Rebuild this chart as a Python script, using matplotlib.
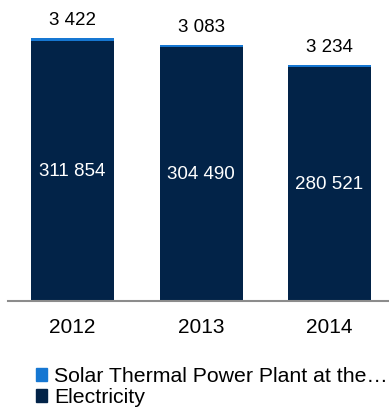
import matplotlib
matplotlib.use("Agg")
import matplotlib.pyplot as plt
from matplotlib.patches import Patch

plt.rcParams['font.family'] = ['Liberation Sans', 'DejaVu Sans']

# data
years = ['2012', '2013', '2014']
electricity = [311854, 304490, 280521]
solar = [3422, 3083, 3234]

navy = '#022348'
blue = '#1677d2'

fig = plt.figure(figsize=(3.89, 4.08), dpi=100)
ax = fig.add_axes([0.0206, 0.262, 0.9794, 0.735])

x = range(len(years))
ax.bar(x, electricity, width=0.646, color=navy)
ax.bar(x, solar, width=0.646, bottom=electricity, color=blue)

# value labels
for i in x:
    ax.text(i, electricity[i] / 2, f"{electricity[i]:,}".replace(',', ' '),
            ha='center', va='center', color='white', fontsize=13.5)
    ax.annotate(f"{solar[i]:,}".replace(',', ' '),
                (i, electricity[i] + solar[i]), xytext=(0, 6.5),
                textcoords='offset points', ha='center', va='bottom',
                fontsize=13.5, color='black')

ax.set_xlim(-0.502, 2.463)
ax.set_ylim(0, 360000)
ax.set_xticks(list(x))
ax.set_xticklabels(years, fontsize=15)
ax.tick_params(axis='x', length=0, pad=12.5)
ax.set_yticks([])
for side in ['top', 'right', 'left']:
    ax.spines[side].set_visible(False)
ax.spines['bottom'].set_color('#8c8c8c')
ax.spines['bottom'].set_linewidth(1.5)

handles = [Patch(color=blue, label='Solar Thermal Power Plant at the\u2026'),
           Patch(color=navy, label='Electricity')]
fig.legend(handles=handles, loc='upper left', bbox_to_anchor=(0.092, 0.1),
           frameon=False, fontsize=15.3, handlelength=0.55, handleheight=0.55,
           handletextpad=0.3, labelspacing=0.08, borderpad=0, borderaxespad=0)

fig.savefig('out.png', dpi=100)
